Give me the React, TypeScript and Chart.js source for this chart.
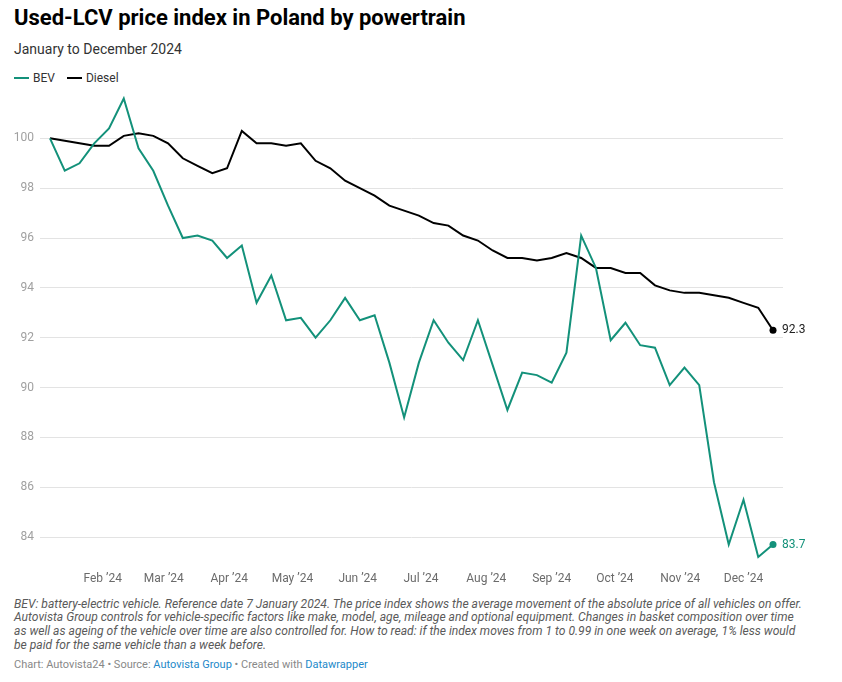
import React, { useEffect, useRef } from "react";
import { Chart, registerables } from "chart.js";

Chart.register(...registerables);

const TITLE = "Used-LCV price index in Poland by powertrain";
const SUBTITLE = "January to December 2024";

const firstWeekDay = 6; // day-of-year offset of 7 Jan 2024 (Jan 1 = 0)
const weekCount = 50;

const bevValues = [
  100, 98.7, 99.0, 99.8, 100.4, 101.6, 99.6, 98.7, 97.3, 96.0,
  96.1, 95.9, 95.2, 95.7, 93.4, 94.5, 92.7, 92.8, 92.0, 92.7,
  93.6, 92.7, 92.9, 91.0, 88.8, 91.0, 92.7, 91.8, 91.1, 92.7,
  90.9, 89.1, 90.6, 90.5, 90.2, 91.4, 96.1, 94.8, 91.9, 92.6,
  91.7, 91.6, 90.1, 90.8, 90.1, 86.2, 83.7, 85.5, 83.2, 83.7,
];

const dieselValues = [
  100, 99.9, 99.8, 99.7, 99.7, 100.1, 100.2, 100.1, 99.8, 99.2,
  98.9, 98.6, 98.8, 100.3, 99.8, 99.8, 99.7, 99.8, 99.1, 98.8,
  98.3, 98.0, 97.7, 97.3, 97.1, 96.9, 96.6, 96.5, 96.1, 95.9,
  95.5, 95.2, 95.2, 95.1, 95.2, 95.4, 95.2, 94.8, 94.8, 94.6,
  94.6, 94.1, 93.9, 93.8, 93.8, 93.7, 93.6, 93.4, 93.2, 92.3,
];

const monthTickDays = [31, 60, 91, 121, 152, 182, 213, 244, 274, 305, 335];
const monthTickLabels = [
  "Feb \u201924", "Mar \u201924", "Apr \u201924", "May \u201924", "Jun \u201924", "Jul \u201924",
  "Aug \u201924", "Sep \u201924", "Oct \u201924", "Nov \u201924", "Dec \u201924",
];
const yTickValues = [84, 86, 88, 90, 92, 94, 96, 98, 100];

const seriesNames = ["BEV", "Diesel"];
const GREEN = "#13917a";
const BLACK = "#000000";
const LINK = "#2389c9";

const NOTES = [
  "BEV: battery-electric vehicle. Reference date 7 January 2024. The price index shows the average movement of the absolute price of all vehicles on offer.",
  "Autovista Group controls for vehicle-specific factors like make, model, age, mileage and optional equipment. Changes in basket composition over time",
  "as well as ageing of the vehicle over time are also controlled for. How to read: if the index moves from 1 to 0.99 in one week on average, 1% less would",
  "be paid for the same vehicle than a week before.",
];

const weekDays = Array.from({ length: weekCount }, (_, i) => firstWeekDay + 7 * i);

const endLabelPlugin = {
  id: "endLabels",
  afterDatasetsDraw(chart: any) {
    const ctx = chart.ctx;
    chart.data.datasets.forEach((ds: any, i: number) => {
      const meta = chart.getDatasetMeta(i);
      const pt = meta.data[meta.data.length - 1];
      if (!pt) return;
      const v = ds.data[ds.data.length - 1].y;
      ctx.save();
      ctx.font = "12px Roboto";
      ctx.fillStyle = i === 0 ? GREEN : "#222";
      ctx.textBaseline = "middle";
      ctx.textAlign = "left";
      ctx.fillText(v.toFixed(1), pt.x + 9, pt.y);
      ctx.restore();
    });
  },
};

function ChartCanvas() {
  const ref = useRef<HTMLCanvasElement | null>(null);
  useEffect(() => {
    if (!ref.current) return;
    Chart.defaults.font.family = "Roboto";
    const lastIdx = weekCount - 1;
    const mk = (vals: number[]) => vals.map((y, i) => ({ x: weekDays[i], y }));
    const chart = new Chart(ref.current, {
      type: "line",
      data: {
        datasets: [
          {
            label: seriesNames[0],
            data: mk(bevValues),
            borderColor: GREEN,
            backgroundColor: GREEN,
            borderWidth: 2,
            tension: 0,
            clip: false,
            pointRadius: (c: any) => (c.dataIndex === lastIdx ? 3.5 : 0),
            pointBorderWidth: 0,
            pointHoverRadius: 0,
          },
          {
            label: seriesNames[1],
            data: mk(dieselValues),
            borderColor: BLACK,
            backgroundColor: BLACK,
            borderWidth: 2,
            tension: 0,
            clip: false,
            pointRadius: (c: any) => (c.dataIndex === lastIdx ? 3.5 : 0),
            pointBorderWidth: 0,
            pointHoverRadius: 0,
          },
        ],
      },
      options: {
        animation: false,
        responsive: false,
        events: [],
        layout: { padding: { left: 0, right: 59, top: 2, bottom: 0 } },
        plugins: { legend: { display: false }, tooltip: { enabled: false } },
        scales: {
          x: {
            type: "linear",
            min: 1.26,
            max: 353.74,
            grid: { display: false },
            border: { display: false },
            afterFit: (s: any) => {
              s.height = 28;
              s.paddingLeft = 0;
              s.paddingRight = 0;
            },
            afterBuildTicks: (s: any) => {
              s.ticks = monthTickDays.map((v) => ({ value: v }));
            },
            ticks: {
              autoSkip: false,
              maxRotation: 0,
              padding: 2,
              color: "#6b6b6b",
              font: { size: 12 },
              callback: (v: any) => {
                const k = monthTickDays.indexOf(Number(v));
                return k >= 0 ? monthTickLabels[k] : "";
              },
            },
          },
          y: {
            type: "linear",
            min: 83,
            max: 101.8,
            border: { display: false },
            grid: { color: "#e3e3e3", lineWidth: 1, drawTicks: false },
            afterFit: (s: any) => {
              s.width = 40;
              s.paddingTop = 0;
              s.paddingBottom = 0;
            },
            afterBuildTicks: (s: any) => {
              s.ticks = yTickValues.map((v) => ({ value: v }));
            },
            ticks: {
              padding: 6,
              color: "#a0a0a0",
              font: { size: 12 },
            },
          },
        },
      },
      plugins: [endLabelPlugin],
    } as any);
    return () => chart.destroy();
  }, []);
  return (
    <canvas
      ref={ref}
      width={842}
      height={500}
      style={{ position: "absolute", left: 0, top: 90, width: 842, height: 500 }}
    />
  );
}

export default function App() {
  return (
    <div
      style={{
        position: "absolute",
        left: 0,
        top: 0,
        width: 842,
        height: 682,
        background: "#fff",
        fontFamily: "Roboto, sans-serif",
        color: "#222",
        overflow: "hidden",
      }}
    >
      <div
        style={{
          position: "absolute",
          left: 14,
          top: 6.5,
          fontSize: 22,
          lineHeight: "22px",
          fontWeight: 700,
          color: "#000",
          whiteSpace: "nowrap",
        }}
      >
        {TITLE}
      </div>
      <div
        style={{
          position: "absolute",
          left: 14,
          top: 42,
          fontSize: 14,
          lineHeight: "14px",
          color: "#333",
          whiteSpace: "nowrap",
        }}
      >
        {SUBTITLE}
      </div>
      <div
        style={{
          position: "absolute",
          left: 14,
          top: 72,
          fontSize: 12,
          lineHeight: "12px",
          color: "#333",
          display: "flex",
          alignItems: "center",
          whiteSpace: "nowrap",
        }}
      >
        <span style={{ display: "inline-block", width: 15, height: 2.5, background: GREEN, marginRight: 4 }} />
        <span style={{ marginRight: 12 }}>{seriesNames[0]}</span>
        <span style={{ display: "inline-block", width: 15, height: 2.5, background: BLACK, marginRight: 4 }} />
        <span>{seriesNames[1]}</span>
      </div>
      <ChartCanvas />
      <div
        style={{
          position: "absolute",
          left: 14,
          top: 597.5,
          fontSize: 12.1,
          lineHeight: "13.7px",
          fontStyle: "italic",
          color: "#5a5a5a",
          whiteSpace: "nowrap",
        }}
      >
        {NOTES.map((l, i) => (
          <div key={i}>{l}</div>
        ))}
      </div>
      <div
        style={{
          position: "absolute",
          left: 14,
          top: 658.5,
          fontSize: 11,
          lineHeight: "12px",
          color: "#888",
          whiteSpace: "nowrap",
        }}
      >
        Chart: Autovista24 • Source: <span style={{ color: LINK }}>Autovista Group</span> • Created with{" "}
        <span style={{ color: LINK }}>Datawrapper</span>
      </div>
    </div>
  );
}
